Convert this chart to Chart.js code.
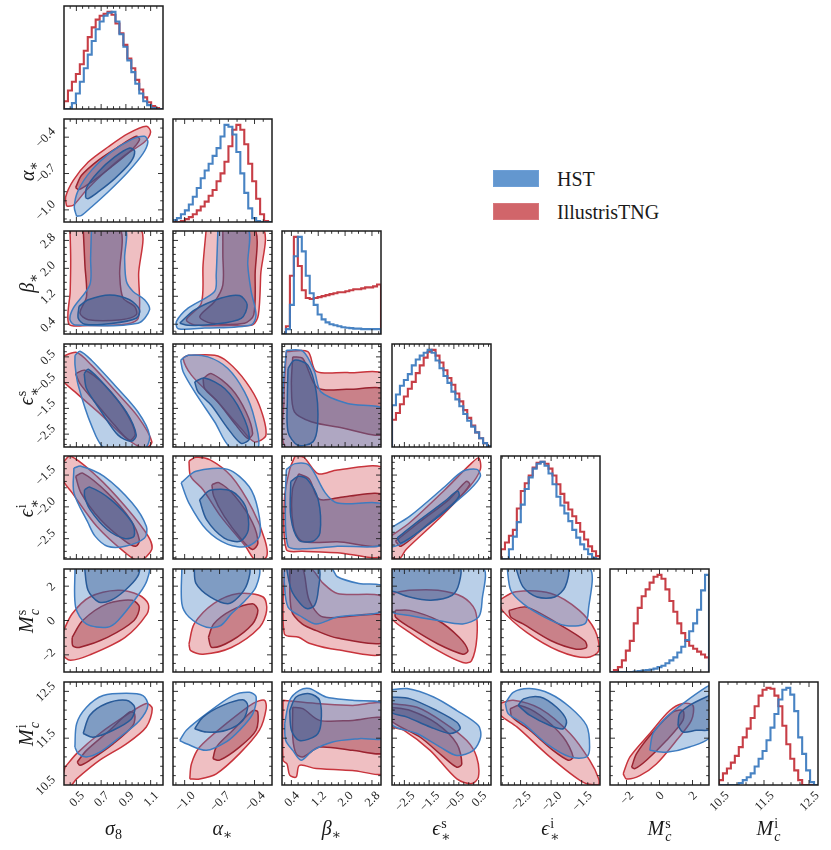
<!DOCTYPE html>
<html><head><meta charset="utf-8">
<script src="https://cdn.jsdelivr.net/npm/chart.js@4.4.1/dist/chart.umd.min.js"></script>
<style>
html,body{margin:0;padding:0;background:#fff;}
#fig{position:relative;width:831px;height:850px;overflow:hidden;font-family:"Liberation Serif","DejaVu Serif",serif;color:#1a1a1a;}
.xl{position:absolute;top:815px;width:100px;text-align:center;font-size:20px;line-height:26px;white-space:nowrap;}
.yl{position:absolute;width:0;height:0;}
.yl>span{position:absolute;left:0;top:0;font-size:20px;line-height:26px;white-space:nowrap;transform:translate(-50%,-50%) rotate(-90deg);}
sub{font-size:0.7em;vertical-align:-0.3em;line-height:0;}
.ss{display:inline-block;vertical-align:-0.42em;font-size:0.7em;line-height:0.95em;margin-left:1px;text-align:left;}
.ss>span{display:block;}
.lg{position:absolute;left:493px;width:46px;height:17px;box-sizing:border-box;}
.lt{position:absolute;left:557px;font-size:20px;line-height:20px;white-space:nowrap;}
</style></head>
<body><div id="fig"></div>
<script>
// ---------------- DATA ----------------
const PARAM_MIN = [0.4, -1.1, 0.12, -3.0, -2.82, -3.0, 10.5];
const PARAM_MAX = [1.2, -0.25, 3.07, 1.0, -1.2, 3.0, 12.7];
const TICK_VALUES = [[0.5,0.7,0.9,1.1],[-1.0,-0.7,-0.4],[0.4,1.2,2.0,2.8],[-2.5,-1.5,-0.5,0.5],[-2.5,-2.0,-1.5],[-2,0,2],[10.5,11.5,12.5]];
const TICK_DECIMALS = [1,1,1,1,1,0,1];
const MINOR_STEP = [0.05,0.075,0.2,0.2,0.1,0.5,0.2];
const LEGEND_LABELS = ['HST','IllustrisTNG'];

// normalised 1D histograms (25 bins spanning each parameter range)
const histRed_s8  = [0.08,0.19,0.28,0.36,0.46,0.6,0.74,0.84,0.92,0.96,0.98,1.0,0.97,0.88,0.78,0.66,0.52,0.42,0.3,0.2,0.12,0.07,0.03,0.01,0];
const histBlue_s8 = [0,0,0.06,0.16,0.28,0.42,0.56,0.7,0.82,0.9,0.96,0.99,1.0,0.9,0.77,0.64,0.5,0.38,0.26,0.16,0.08,0.04,0.01,0,0];
const histRed_aS  = [0,0,0.01,0.03,0.05,0.08,0.12,0.16,0.21,0.27,0.33,0.42,0.5,0.62,0.78,0.95,1.0,0.95,0.8,0.6,0.42,0.24,0.08,0.01,0];
const histBlue_aS = [0.02,0.04,0.08,0.12,0.18,0.26,0.35,0.45,0.53,0.6,0.68,0.76,0.88,1.0,0.98,0.9,0.72,0.5,0.3,0.14,0.04,0.01,0,0,0];
const histRed_bS  = [0,0.08,0.6,1.0,0.7,0.45,0.37,0.36,0.37,0.38,0.39,0.4,0.41,0.42,0.43,0.43,0.44,0.45,0.46,0.46,0.47,0.48,0.48,0.49,0.51];
const histBlue_bS = [0,0.05,0.3,0.8,1.0,0.85,0.6,0.42,0.3,0.2,0.15,0.12,0.1,0.09,0.08,0.07,0.065,0.06,0.055,0.055,0.05,0.05,0.05,0.05,0.05];
const histRed_eS  = [0.28,0.35,0.44,0.52,0.6,0.67,0.76,0.84,0.92,0.98,1.0,0.94,0.87,0.79,0.71,0.64,0.55,0.47,0.38,0.3,0.22,0.15,0.09,0.04,0.01];
const histBlue_eS = [0.43,0.54,0.63,0.69,0.75,0.84,0.9,0.94,0.97,1.0,0.97,0.89,0.81,0.73,0.66,0.57,0.49,0.42,0.34,0.27,0.21,0.15,0.09,0.04,0.01];
const histRed_eI  = [0.1,0.17,0.24,0.3,0.52,0.7,0.78,0.86,0.94,0.99,1.0,0.98,0.93,0.86,0.77,0.67,0.58,0.51,0.44,0.37,0.28,0.2,0.13,0.08,0.03];
const histBlue_eI = [0,0,0.1,0.23,0.38,0.56,0.72,0.84,0.93,0.98,1.0,0.96,0.88,0.77,0.64,0.55,0.47,0.39,0.3,0.22,0.15,0.1,0.05,0.01,0];
const histRed_mS  = [0,0.02,0.05,0.12,0.22,0.32,0.5,0.66,0.78,0.85,0.92,0.98,1.0,0.96,0.85,0.73,0.62,0.5,0.4,0.32,0.27,0.24,0.21,0.18,0.15];
const histBlue_mS = [0,0,0,0,0,0,0.005,0.01,0.015,0.02,0.025,0.035,0.05,0.065,0.09,0.12,0.15,0.2,0.26,0.33,0.42,0.5,0.64,0.84,1.0];
const histRed_mI  = [0.05,0.12,0.17,0.23,0.3,0.39,0.49,0.58,0.69,0.81,0.92,0.98,1.0,0.99,0.92,0.81,0.61,0.42,0.27,0.15,0.05,0,0,0,0];
const histBlue_mI = [0,0,0,0,0,0.02,0.05,0.08,0.12,0.19,0.27,0.35,0.46,0.59,0.73,0.88,0.98,1.0,0.93,0.76,0.49,0.32,0.15,0.03,0];

// 2D credible contours [x, y] (95% and 68%), named <series><level>_<yParam>_<xParam>
const red95_aS_s8 = [[0.421,-0.97],[0.413,-0.894],[0.475,-0.756],[0.596,-0.605],[0.756,-0.481],[0.917,-0.371],[1.065,-0.31],[1.10,-0.357],[1.05,-0.44],[0.89,-0.55],[0.73,-0.687],[0.58,-0.838],[0.475,-0.962]];
const red68_aS_s8 = [[0.494,-0.816],[0.542,-0.715],[0.676,-0.591],[0.837,-0.481],[0.984,-0.393],[1.011,-0.42],[0.944,-0.508],[0.783,-0.646],[0.622,-0.77],[0.521,-0.833]];
const blue95_aS_s8 = [[0.502,-1.053],[0.483,-0.976],[0.515,-0.839],[0.622,-0.674],[0.783,-0.522],[0.944,-0.42],[1.051,-0.393],[1.078,-0.44],[1.038,-0.536],[0.917,-0.687],[0.756,-0.852],[0.622,-0.976],[0.542,-1.045]];
const blue68_aS_s8 = [[0.574,-0.899],[0.582,-0.817],[0.676,-0.687],[0.81,-0.563],[0.931,-0.489],[0.971,-0.514],[0.939,-0.605],[0.81,-0.742],[0.676,-0.852],[0.596,-0.907]];

const red95_bS_s8 = [[0.448,3.15],[1.011,3.15],[1.003,1.82],[1.011,0.955],[0.992,0.527],[0.864,0.383],[0.596,0.365],[0.44,0.403],[0.45,1.34],[0.454,2.29]];
const red68_bS_s8 = [[0.555,3.15],[0.569,2.1],[0.582,1.19],[0.529,0.72],[0.596,0.53],[0.864,0.53],[0.984,0.67],[0.971,0.91],[0.877,1.15],[0.85,1.82],[0.85,3.15]];
const blue95_bS_s8 = [[0.622,3.15],[0.615,2.3],[0.609,1.53],[0.475,0.86],[0.448,0.53],[0.489,0.38],[0.998,0.43],[1.091,0.81],[1.051,1.1],[0.958,1.34],[0.904,1.63],[0.89,2.29],[0.89,3.15]];
const blue68_bS_s8 = [[0.521,0.91],[0.596,1.1],[0.77,1.24],[0.93,1.1],[1.011,0.81],[0.984,0.57],[0.783,0.42],[0.569,0.4],[0.515,0.57]];
const red95_bS_aS = [[-0.814,3.15],[-0.332,3.15],[-0.347,1.82],[-0.367,0.67],[-0.416,0.38],[-0.6,0.36],[-0.914,0.38],[-0.985,0.53],[-0.857,1.0],[-0.842,2.1]];
const red68_bS_aS = [[-0.672,3.15],[-0.401,3.15],[-0.395,1.82],[-0.407,0.67],[-0.486,0.43],[-0.771,0.43],[-0.87,0.62],[-0.743,1.05],[-0.672,1.53],[-0.672,2.39]];
const blue95_bS_aS = [[-0.714,3.15],[-0.729,1.82],[-0.743,1.34],[-0.971,0.86],[-1.07,0.48],[-1.056,0.27],[-0.828,0.29],[-0.429,0.38],[-0.387,0.67],[-0.429,1.34],[-0.458,2.1],[-0.458,3.15]];
const blue68_bS_aS = [[-1.042,0.43],[-0.914,0.81],[-0.686,1.15],[-0.529,1.22],[-0.463,0.955],[-0.514,0.57],[-0.743,0.4],[-0.971,0.37]];

const red95_eS_s8 = [[0.38,0.5],[0.502,0.67],[0.622,0.18],[0.81,-0.8],[0.998,-1.83],[1.11,-2.8],[1.051,-3.05],[0.904,-2.67],[0.703,-1.76],[0.489,-0.86],[0.38,-0.34]];
const red68_eS_s8 = [[0.494,-0.15],[0.569,-0.02],[0.73,-0.6],[0.89,-1.57],[0.976,-2.48],[0.93,-2.74],[0.81,-2.16],[0.65,-1.25],[0.529,-0.54]];
const blue95_eS_s8 = [[0.489,0.56],[0.529,0.72],[0.622,0.37],[0.81,-0.6],[0.998,-1.64],[1.091,-2.54],[1.051,-3.05],[0.73,-3.05],[0.622,-2.16],[0.515,-0.6],[0.489,0.18]];
const blue68_eS_s8 = [[0.563,-0.15],[0.596,0.02],[0.73,-0.6],[0.904,-1.64],[0.984,-2.54],[0.944,-2.78],[0.837,-2.54],[0.703,-1.64],[0.582,-0.73]];
const red95_eS_aS = [[-0.971,0.56],[-0.743,0.56],[-0.629,0.3],[-0.473,-0.47],[-0.359,-1.38],[-0.302,-2.54],[-0.401,-2.8],[-0.515,-2.28],[-0.743,-1.12],[-0.942,-0.21],[-1.013,0.44]];
const red68_eS_aS = [[-0.842,-0.34],[-0.771,-0.15],[-0.6,-0.73],[-0.473,-1.64],[-0.416,-2.48],[-0.458,-2.67],[-0.558,-2.16],[-0.714,-1.25],[-0.828,-0.73]];
const blue95_eS_aS = [[-1.034,0.37],[-0.971,0.56],[-0.8,0.5],[-0.629,0.05],[-0.486,-0.86],[-0.401,-1.89],[-0.372,-3.05],[-0.6,-3.05],[-0.743,-2.02],[-0.914,-0.86],[-1.013,-0.08]];
const blue68_eS_aS = [[-0.914,-0.47],[-0.828,-0.32],[-0.657,-0.73],[-0.515,-1.64],[-0.444,-2.67],[-0.515,-2.86],[-0.629,-2.28],[-0.771,-1.38],[-0.885,-0.86]];
const red95_eS_bS = [[0.25,0.7],[0.89,0.7],[1.14,-0.06],[2.07,-0.11],[3.2,-0.24],[3.2,-3.1],[0.3,-3.1],[0.18,-1.12]];
const red68_eS_bS = [[0.44,0.5],[0.74,0.44],[1.18,-0.7],[2.07,-0.76],[3.2,-0.8],[3.2,-2.48],[1.78,-2.22],[0.99,-2.02],[0.49,-1.64],[0.4,-0.6]];
const blue95_eS_bS = [[0.25,0.76],[0.74,0.72],[1.09,-0.08],[1.28,-0.86],[2.07,-1.31],[3.2,-1.57],[3.2,-3.1],[0.2,-3.1],[0.15,-0.86]];
const blue68_eS_bS = [[0.3,0.05],[0.49,0.37],[0.89,0.18],[1.14,-0.86],[1.18,-2.15],[1.04,-2.8],[0.59,-2.93],[0.3,-2.41],[0.28,-1.12]];

const red95_eI_s8 = [[0.39,-1.31],[0.451,-1.2],[0.666,-1.52],[0.894,-1.99],[1.08,-2.46],[1.109,-2.67],[1.009,-2.85],[0.894,-2.72],[0.666,-2.31],[0.466,-1.78],[0.39,-1.57]];
const red68_eI_s8 = [[0.494,-1.52],[0.551,-1.47],[0.751,-1.78],[0.937,-2.2],[1.009,-2.52],[0.98,-2.62],[0.894,-2.54],[0.694,-2.2],[0.537,-1.78]];
const blue95_eI_s8 = [[0.48,-1.39],[0.537,-1.36],[0.723,-1.52],[0.951,-1.94],[1.066,-2.31],[1.051,-2.49],[0.894,-2.62],[0.751,-2.62],[0.651,-2.46],[0.594,-2.25],[0.48,-1.78]];
const blue68_eI_s8 = [[0.566,-1.73],[0.609,-1.69],[0.78,-1.89],[0.951,-2.25],[0.966,-2.46],[0.894,-2.5],[0.751,-2.36],[0.609,-2.04],[0.566,-1.83]];
const red95_eI_aS = [[-0.963,-1.28],[-0.903,-1.22],[-0.781,-1.26],[-0.599,-1.52],[-0.417,-2.04],[-0.311,-2.52],[-0.296,-2.78],[-0.387,-2.85],[-0.478,-2.62],[-0.69,-2.15],[-0.842,-1.73],[-0.948,-1.52]];
const red68_eI_aS = [[-0.766,-1.65],[-0.706,-1.62],[-0.569,-1.83],[-0.417,-2.25],[-0.371,-2.57],[-0.417,-2.67],[-0.508,-2.52],[-0.66,-2.15],[-0.751,-1.83]];
const blue95_eI_aS = [[-1.03,-1.62],[-0.903,-1.44],[-0.629,-1.41],[-0.447,-1.68],[-0.371,-2.04],[-0.356,-2.46],[-0.462,-2.62],[-0.629,-2.59],[-0.812,-2.36],[-0.963,-1.94]];
const blue68_eI_aS = [[-0.872,-1.89],[-0.781,-1.74],[-0.599,-1.75],[-0.478,-1.99],[-0.453,-2.36],[-0.523,-2.54],[-0.66,-2.49],[-0.812,-2.2]];
const red95_eI_bS = [[0.51,-1.2],[0.77,-1.22],[1.2,-1.48],[1.77,-1.42],[3.2,-1.42],[3.2,-2.74],[1.77,-2.72],[0.72,-2.7],[0.25,-2.67],[0.19,-1.89],[0.35,-1.41]];
const red68_eI_bS = [[0.62,-1.48],[0.93,-1.56],[1.23,-1.88],[1.99,-1.84],[3.2,-1.83],[3.2,-2.58],[1.77,-2.55],[0.72,-2.54],[0.46,-2.31],[0.43,-1.73]];
const blue95_eI_bS = [[0.25,-1.41],[0.51,-1.32],[0.93,-1.35],[1.41,-1.78],[1.77,-1.94],[3.2,-1.98],[3.2,-2.57],[1.77,-2.62],[0.72,-2.66],[0.3,-2.62],[0.22,-1.89]];
const blue68_eI_bS = [[0.38,-1.6],[0.62,-1.52],[0.88,-1.57],[1.2,-1.89],[1.25,-2.41],[1.04,-2.54],[0.62,-2.52],[0.38,-2.15]];
const red95_eI_eS = [[-3.05,-2.46],[-2.29,-2.25],[-0.86,-1.73],[0.14,-1.34],[0.5,-1.23],[0.57,-1.41],[0.14,-1.68],[-1.14,-2.2],[-2.43,-2.67],[-2.71,-2.82],[-3.05,-2.78]];
const red68_eI_eS = [[-2.86,-2.54],[-1.86,-2.23],[-0.71,-1.89],[0,-1.6],[0.14,-1.65],[-0.43,-1.91],[-1.57,-2.28],[-2.64,-2.62]];
const blue95_eI_eS = [[-3.05,-2.33],[-2.29,-2.15],[-0.86,-1.68],[-0.14,-1.44],[0.43,-1.41],[0.57,-1.52],[0.14,-1.73],[-1.14,-2.15],[-2.43,-2.54],[-3.05,-2.62]];
const blue68_eI_eS = [[-2.79,-2.49],[-1.86,-2.2],[-0.86,-1.91],[-0.36,-1.75],[-0.29,-1.83],[-0.71,-2.02],[-1.71,-2.33],[-2.64,-2.57]];

const red95_mS_s8 = [[0.39,-0.69],[0.466,0.39],[0.609,1.37],[0.837,1.76],[1.009,1.47],[1.08,0.98],[1.071,0.39],[0.894,-0.98],[0.609,-2.0],[0.451,-2.31],[0.39,-1.96]];
const red68_mS_s8 = [[0.466,-0.98],[0.551,0],[0.751,0.98],[0.951,1.18],[1.009,0.78],[0.966,0],[0.751,-0.98],[0.523,-1.57],[0.471,-1.47]];
const blue95_mS_s8 = [[0.489,3.1],[0.494,0.78],[0.58,-0.2],[0.751,-0.39],[0.837,0],[1.009,1.57],[1.071,2.35],[1.08,3.1]];
const blue68_mS_s8 = [[0.566,3.1],[0.594,1.76],[0.68,1.08],[0.78,1.18],[0.894,1.76],[0.994,2.55],[1.003,3.1]];
const red95_mS_aS = [[-0.963,-1.37],[-0.918,-0.2],[-0.751,0.98],[-0.538,1.57],[-0.326,1.37],[-0.296,0.59],[-0.356,-0.39],[-0.599,-1.57],[-0.842,-1.96],[-0.948,-1.76]];
const red68_mS_aS = [[-0.796,-0.98],[-0.751,-0.2],[-0.599,0.59],[-0.417,0.98],[-0.371,0.59],[-0.417,-0.2],[-0.599,-1.18],[-0.766,-1.57]];
const blue95_mS_aS = [[-1.024,3.1],[-1.024,0.98],[-0.963,0.2],[-0.812,-0.39],[-0.69,-0.29],[-0.599,0.39],[-0.478,1.18],[-0.387,1.96],[-0.371,3.1]];
const blue68_mS_aS = [[-0.918,3.1],[-0.903,2.16],[-0.781,1.37],[-0.629,0.98],[-0.538,1.37],[-0.462,2.16],[-0.453,3.1]];
const red95_mS_bS = [[0.19,3.1],[0.93,3.1],[1.35,2.16],[1.77,1.57],[3.2,1.27],[3.2,-1.86],[1.77,-1.71],[0.93,-1.33],[0.62,-0.98],[0.19,-0.78]];
const red68_mS_bS = [[0.35,3.1],[0.72,3.1],[0.93,1.18],[1.35,0.2],[3.2,0.29],[3.2,-1.27],[1.77,-1.02],[1.14,-0.59],[0.72,-0.2],[0.4,0.59]];
const blue95_mS_bS = [[0.19,3.1],[1.56,3.1],[1.77,2.55],[2.41,2.16],[3.2,1.96],[3.2,0.59],[1.77,0.2],[1.14,-0.2],[0.72,0.2],[0.3,0.78],[0.19,2.16]];
const blue68_mS_bS = [[0.25,3.1],[1.2,3.1],[1.2,1.76],[1.09,0.88],[0.88,0.69],[0.67,0.98],[0.4,1.76]];
const red95_mS_eS = [[-3.05,1.57],[-2.29,1.76],[-1.14,1.76],[-0.14,1.37],[0.36,0.59],[0.43,-0.98],[0.21,-2.35],[-0.14,-2.45],[-1.14,-1.76],[-2.29,-0.69],[-3.05,0.2]];
const red68_mS_eS = [[-2.86,0.59],[-2.29,0.59],[-1.14,0],[-0.29,-0.98],[0.07,-1.76],[-0.14,-1.96],[-1.14,-1.37],[-2.29,-0.39],[-2.86,0.2]];
const blue95_mS_eS = [[-3.05,3.1],[0.64,3.1],[0.64,1.18],[0.5,0.2],[-0.14,-0.2],[-1.14,0],[-2.29,0.29],[-3.05,0.59]];
const blue68_mS_eS = [[-3.05,3.1],[-0.29,3.1],[-0.29,2.16],[-0.57,1.47],[-1.43,1.18],[-2.29,1.37],[-2.86,1.67],[-3.05,1.76]];
const red95_mS_eI = [[-2.85,1.18],[-2.58,1.67],[-2.0,1.57],[-1.54,0.59],[-1.28,-0.59],[-1.22,-1.76],[-1.42,-2.16],[-1.88,-1.76],[-2.4,-0.69],[-2.8,0.59]];
const red68_mS_eI = [[-2.69,0.59],[-2.4,0.78],[-1.88,-0.2],[-1.45,-1.18],[-1.42,-1.57],[-1.59,-1.67],[-2.0,-1.18],[-2.46,-0.2],[-2.66,0.2]];
const blue95_mS_eI = [[-2.72,3.1],[-1.39,3.1],[-1.39,0.59],[-1.45,-0.2],[-1.77,-0.29],[-2.11,0.2],[-2.46,0.98],[-2.66,1.76]];
const blue68_mS_eI = [[-2.58,3.1],[-1.74,3.1],[-1.77,1.96],[-1.94,1.37],[-2.23,1.37],[-2.46,1.96]];

const red95_mI_s8 = [[0.408,10.88],[0.502,11.17],[0.689,11.6],[0.904,11.99],[1.065,12.24],[1.113,12.13],[1.065,11.74],[0.904,11.38],[0.689,11.03],[0.502,10.63],[0.45,10.48],[0.38,10.5]];
const red68_mI_s8 = [[0.507,10.99],[0.582,11.24],[0.77,11.67],[0.931,12.06],[0.971,12.02],[0.957,11.77],[0.797,11.38],[0.609,11.03],[0.529,10.92]];
const blue95_mI_s8 = [[0.488,11.31],[0.502,11.81],[0.582,12.16],[0.716,12.41],[0.904,12.46],[1.038,12.41],[1.078,12.2],[1.011,11.88],[0.85,11.52],[0.689,11.2],[0.582,11.1],[0.515,11.17]];
const blue68_mI_s8 = [[0.555,11.6],[0.609,11.99],[0.743,12.24],[0.904,12.31],[0.971,12.16],[0.944,11.91],[0.797,11.67],[0.636,11.52]];
const red95_mI_aS = [[-0.956,10.63],[-0.942,10.95],[-0.871,11.31],[-0.643,11.81],[-0.415,12.24],[-0.315,12.31],[-0.3,12.13],[-0.358,11.67],[-0.529,11.17],[-0.728,10.74],[-0.871,10.63]];
const red68_mI_aS = [[-0.757,11.06],[-0.728,11.31],[-0.586,11.67],[-0.415,12.09],[-0.372,12.06],[-0.387,11.67],[-0.529,11.31],[-0.7,11.03]];
const blue95_mI_aS = [[-1.042,11.45],[-0.985,11.67],[-0.814,12.02],[-0.586,12.41],[-0.444,12.48],[-0.386,12.38],[-0.415,12.02],[-0.529,11.67],[-0.643,11.42],[-0.814,11.24],[-0.985,11.38]];
const blue68_mI_aS = [[-0.914,11.7],[-0.843,11.95],[-0.672,12.2],[-0.501,12.32],[-0.458,12.2],[-0.501,11.88],[-0.643,11.67],[-0.814,11.63]];
const red95_mI_bS = [[0.15,12.31],[1.14,12.24],[2.22,12.2],[3.2,12.2],[3.2,10.78],[2.22,10.81],[1.14,10.85],[0.64,10.92],[0.54,10.67],[0.35,10.71],[0.27,10.95],[0.15,11.03]];
const red68_mI_bS = [[0.44,12.16],[0.74,12.13],[1.24,11.88],[2.22,11.88],[3.2,11.91],[3.2,11.2],[2.22,11.24],[1.24,11.31],[0.74,11.1],[0.54,11.17],[0.44,11.52]];
const blue95_mI_bS = [[0.2,11.81],[0.35,12.31],[0.64,12.52],[0.94,12.56],[1.43,12.38],[2.22,12.31],[3.2,12.22],[3.2,11.52],[2.42,11.49],[1.63,11.42],[1.04,11.24],[0.69,11.03],[0.44,11.24],[0.23,11.45]];
const blue68_mI_bS = [[0.35,12.09],[0.54,12.38],[0.94,12.45],[1.24,12.31],[1.28,11.81],[1.14,11.56],[0.64,11.45],[0.4,11.67]];
const red95_mI_eS = [[-3.05,12.24],[-1.99,12.16],[-0.92,11.84],[0.02,11.45],[0.42,11.1],[0.49,10.67],[0.22,10.53],[-0.38,10.63],[-1.46,11.24],[-2.53,11.67],[-3.05,11.77]];
const red68_mI_eS = [[-3.05,12.16],[-2.26,12.09],[-1.19,11.81],[-0.38,11.38],[-0.18,10.95],[-0.38,10.88],[-0.92,11.1],[-1.86,11.52],[-3.05,11.88]];
const blue95_mI_eS = [[-3.05,12.53],[-2.39,12.56],[-1.32,12.38],[-0.38,12.09],[0.49,11.77],[0.58,11.52],[0.29,11.24],[-0.38,11.13],[-1.05,11.31],[-1.99,11.6],[-3.05,11.81]];
const blue68_mI_eS = [[-3.05,12.38],[-2.26,12.34],[-1.19,12.09],[-0.38,11.84],[-0.25,11.7],[-0.65,11.6],[-1.46,11.74],[-2.39,11.95],[-3.05,12.06]];
const red95_mI_eI = [[-2.85,12.24],[-2.62,12.31],[-2.18,12.13],[-1.69,11.6],[-1.37,11.03],[-1.22,10.63],[-1.23,10.5],[-1.48,10.56],[-2.02,11.1],[-2.56,11.74],[-2.85,12.02]];
const red68_mI_eI = [[-2.67,12.13],[-2.51,12.2],[-2.18,11.99],[-1.8,11.52],[-1.64,11.1],[-1.72,11.03],[-1.97,11.24],[-2.35,11.67],[-2.64,11.95]];
const blue95_mI_eI = [[-2.75,12.24],[-2.62,12.48],[-2.35,12.56],[-2.02,12.45],[-1.69,12.16],[-1.42,11.77],[-1.37,11.31],[-1.42,11.1],[-1.69,11.1],[-2.07,11.38],[-2.45,11.81],[-2.7,12.02]];
const blue68_mI_eI = [[-2.54,12.2],[-2.45,12.34],[-2.18,12.38],[-1.91,12.16],[-1.75,11.88],[-1.8,11.7],[-2.02,11.77],[-2.35,11.99]];
const red95_mI_mS = [[-2.2,10.74],[-1.79,11.1],[-0.59,11.6],[0.62,12.09],[1.42,12.24],[2.03,12.2],[1.93,11.88],[1.02,11.45],[-0.19,10.95],[-1.19,10.7],[-2.0,10.63]];
const red68_mI_mS = [[-1.69,10.88],[-1.39,11.17],[-0.39,11.63],[0.82,12.06],[1.42,12.09],[1.42,11.88],[0.42,11.45],[-0.79,11.03],[-1.49,10.85]];
const blue95_mI_mS = [[-0.59,11.24],[-0.39,11.6],[0.42,11.95],[1.42,12.24],[2.83,12.59],[3.1,12.62],[3.1,11.55],[1.82,11.31],[0.42,11.2]];
const blue68_mI_mS = [[1.12,11.77],[1.22,12.02],[1.82,12.2],[2.83,12.38],[3.1,12.4],[3.1,11.7],[2.23,11.67],[1.42,11.63]];

// tables built from the named arrays
const HIST_RED = [histRed_s8, histRed_aS, histRed_bS, histRed_eS, histRed_eI, histRed_mS, histRed_mI];
const HIST_BLUE = [histBlue_s8, histBlue_aS, histBlue_bS, histBlue_eS, histBlue_eI, histBlue_mS, histBlue_mI];
const PANEL_CONTOURS = {
  '1_0': [red95_aS_s8, red68_aS_s8, blue95_aS_s8, blue68_aS_s8],
  '2_0': [red95_bS_s8, red68_bS_s8, blue95_bS_s8, blue68_bS_s8],
  '2_1': [red95_bS_aS, red68_bS_aS, blue95_bS_aS, blue68_bS_aS],
  '3_0': [red95_eS_s8, red68_eS_s8, blue95_eS_s8, blue68_eS_s8],
  '3_1': [red95_eS_aS, red68_eS_aS, blue95_eS_aS, blue68_eS_aS],
  '3_2': [red95_eS_bS, red68_eS_bS, blue95_eS_bS, blue68_eS_bS],
  '4_0': [red95_eI_s8, red68_eI_s8, blue95_eI_s8, blue68_eI_s8],
  '4_1': [red95_eI_aS, red68_eI_aS, blue95_eI_aS, blue68_eI_aS],
  '4_2': [red95_eI_bS, red68_eI_bS, blue95_eI_bS, blue68_eI_bS],
  '4_3': [red95_eI_eS, red68_eI_eS, blue95_eI_eS, blue68_eI_eS],
  '5_0': [red95_mS_s8, red68_mS_s8, blue95_mS_s8, blue68_mS_s8],
  '5_1': [red95_mS_aS, red68_mS_aS, blue95_mS_aS, blue68_mS_aS],
  '5_2': [red95_mS_bS, red68_mS_bS, blue95_mS_bS, blue68_mS_bS],
  '5_3': [red95_mS_eS, red68_mS_eS, blue95_mS_eS, blue68_mS_eS],
  '5_4': [red95_mS_eI, red68_mS_eI, blue95_mS_eI, blue68_mS_eI],
  '6_0': [red95_mI_s8, red68_mI_s8, blue95_mI_s8, blue68_mI_s8],
  '6_1': [red95_mI_aS, red68_mI_aS, blue95_mI_aS, blue68_mI_aS],
  '6_2': [red95_mI_bS, red68_mI_bS, blue95_mI_bS, blue68_mI_bS],
  '6_3': [red95_mI_eS, red68_mI_eS, blue95_mI_eS, blue68_mI_eS],
  '6_4': [red95_mI_eI, red68_mI_eI, blue95_mI_eI, blue68_mI_eI],
  '6_5': [red95_mI_mS, red68_mI_mS, blue95_mI_mS, blue68_mI_mS]
};

// ---------------- LAYOUT / STYLE ----------------
const PANEL_LEFT = [64,173,282,392,501,610,719];
const PANEL_TOP = [6,119,231,344,456,569,682];
const PANEL_W = 99, PANEL_H = 103;
const HIST_YMAX = 1.06;
const INK = '#1c1c1c';
const TICK_FONT = '12.5px "Liberation Serif", "DejaVu Serif", serif';
const STYLE = {
  blue95: {fill:'rgba(70,130,195,0.38)', line:'rgb(62,124,192)'},
  blue68: {fill:'rgba(40,80,140,0.40)', line:'rgb(40,90,152)'},
  red95:  {fill:'rgba(205,60,70,0.33)', line:'rgb(200,52,60)'},
  red68:  {fill:'rgba(140,30,45,0.38)', line:'rgb(155,35,48)'},
  histBlue: 'rgba(62,124,192,0.95)', histRed: 'rgba(196,52,60,0.95)'
};
const AXIS_LABELS = [
  '<i>σ</i><sub>8</sub>',
  '<i>α</i><sub>∗</sub>',
  '<i>β</i><sub>∗</sub>',
  '<i>ϵ</i><span class="ss"><span>s</span><span>∗</span></span>',
  '<i>ϵ</i><span class="ss"><span>i</span><span>∗</span></span>',
  '<i>M</i><span class="ss"><span>s</span><span><i>c</i></span></span>',
  '<i>M</i><span class="ss"><span>i</span><span><i>c</i></span></span>'
];

function fmtTick(v, k) {
  const s = Math.abs(v).toFixed(TICK_DECIMALS[k]);
  return (v < -1e-9 ? '\u2212' : '') + s;
}

const framePlugin = {
  id: 'frame',
  afterDatasetsDraw(chart, args, o) {
    const ctx = chart.ctx, a = chart.chartArea, xs = chart.scales.x, ys = chart.scales.y;
    ctx.save();
    ctx.strokeStyle = INK;
    ctx.lineWidth = 0.9;
    ctx.beginPath();
    const mark = (scale, k, horiz) => {
      const major = scale.ticks.map(t => t.value);
      const step = MINOR_STEP[k];
      const vals = [];
      for (let v = major[0]; v >= scale.min - 1e-9; v -= step) vals.push(v);
      for (let v = major[0] + step; v <= scale.max + 1e-9; v += step) vals.push(v);
      for (const v of vals) {
        const isMajor = major.some(m => Math.abs(m - v) < step * 0.05);
        const len = isMajor ? 5 : 2.8;
        const p = scale.getPixelForValue(v);
        if (horiz) {
          if (p < a.left + 1 || p > a.right - 1) continue;
          ctx.moveTo(p, a.bottom); ctx.lineTo(p, a.bottom - len);
          ctx.moveTo(p, a.top); ctx.lineTo(p, a.top + len);
        } else {
          if (p < a.top + 1 || p > a.bottom - 1) continue;
          ctx.moveTo(a.left, p); ctx.lineTo(a.left + len, p);
          ctx.moveTo(a.right, p); ctx.lineTo(a.right - len, p);
        }
      }
    };
    mark(xs, o.col, true);
    if (!o.diag) mark(ys, o.row, false);
    ctx.stroke();
    ctx.lineWidth = 1.5;
    ctx.strokeRect(a.left, a.top, a.right - a.left, a.bottom - a.top);

    ctx.fillStyle = INK;
    ctx.font = TICK_FONT;
    const H = 8.6;
    const drawRot = (s, cx, cy) => {
      ctx.save(); ctx.translate(cx, cy); ctx.rotate(-Math.PI / 4);
      ctx.textAlign = 'center'; ctx.textBaseline = 'alphabetic';
      ctx.fillText(s, 0, H / 2); ctx.restore();
    };
    if (o.xLabels) {
      for (const t of xs.ticks) {
        const s = fmtTick(t.value, o.col);
        const half = (ctx.measureText(s).width + H) * Math.SQRT1_2 / 2;
        drawRot(s, xs.getPixelForValue(t.value), a.bottom + 5 + half);
      }
    }
    if (o.yLabels) {
      for (const t of ys.ticks) {
        const s = fmtTick(t.value, o.row);
        const half = (ctx.measureText(s).width + H) * Math.SQRT1_2 / 2;
        drawRot(s, a.left - 8 - half, ys.getPixelForValue(t.value));
      }
    }
    ctx.restore();
  }
};

function contourDs(pts, st) {
  const data = pts.concat([pts[0]]).map(p => ({x: p[0], y: p[1]}));
  return {data, fill: 'shape', backgroundColor: st.fill, borderColor: st.line, borderWidth: 1.5,
          pointRadius: 0, tension: 0.3, clip: 0};
}
function histDs(vals, k, color) {
  const lo = PARAM_MIN[k], step = (PARAM_MAX[k] - PARAM_MIN[k]) / vals.length;
  const data = [{x: lo, y: 0}];
  vals.forEach((v, i) => data.push({x: lo + i * step, y: v}));
  data.push({x: lo + vals.length * step, y: vals[vals.length - 1]});
  data.push({x: lo + vals.length * step, y: 0});
  return {data, fill: false, stepped: 'before', borderColor: color, borderWidth: 2.1, pointRadius: 0, clip: 0};
}

const fig = document.getElementById('fig');

function makePanel(r, c) {
  const diag = r === c;
  const padL = (c === 0 && r > 0) ? 64 : (r === 6 ? 14 : 5);
  const padB = r === 6 ? 50 : 5, padT = 5, padR = 5;
  const cw = padL + PANEL_W + padR, ch = padT + PANEL_H + padB;
  const cv = document.createElement('canvas');
  cv.width = cw; cv.height = ch;
  cv.style.position = 'absolute';
  cv.style.left = (PANEL_LEFT[c] - padL) + 'px';
  cv.style.top = (PANEL_TOP[r] - padT) + 'px';
  cv.style.width = cw + 'px'; cv.style.height = ch + 'px';
  fig.appendChild(cv);
  let datasets;
  if (diag) {
    datasets = [histDs(HIST_BLUE[c], c, STYLE.histBlue), histDs(HIST_RED[c], c, STYLE.histRed)];
  } else {
    const [r95, r68, b95, b68] = PANEL_CONTOURS[r + '_' + c];
    datasets = [contourDs(b68, STYLE.blue68), contourDs(b95, STYLE.blue95),
                contourDs(r68, STYLE.red68), contourDs(r95, STYLE.red95)];
  }
  const axisCommon = {type: 'linear', grid: {display: false}, border: {display: false}, ticks: {display: false}};
  new Chart(cv, {
    type: 'line',
    data: {datasets},
    options: {
      responsive: false, animation: false, events: [],
      layout: {padding: {top: padT, right: padR, left: 0, bottom: 0}},
      plugins: {legend: {display: false}, tooltip: {enabled: false},
                frame: {row: r, col: c, diag, xLabels: r === 6, yLabels: c === 0 && r > 0}},
      scales: {
        x: Object.assign({}, axisCommon, {min: PARAM_MIN[c], max: PARAM_MAX[c],
             afterBuildTicks: s => { s.ticks = TICK_VALUES[c].map(v => ({value: v})); },
             afterFit: s => { s.height = padB; }}),
        y: Object.assign({}, axisCommon, {min: diag ? 0 : PARAM_MIN[r], max: diag ? HIST_YMAX : PARAM_MAX[r],
             afterBuildTicks: s => { s.ticks = diag ? [] : TICK_VALUES[r].map(v => ({value: v})); },
             afterFit: s => { s.width = padL; }})
      }
    },
    plugins: [framePlugin]
  });
}

for (let r = 0; r < 7; r++) for (let c = 0; c <= r; c++) makePanel(r, c);

// axis titles
for (let k = 0; k < 7; k++) {
  const d = document.createElement('div');
  d.className = 'xl';
  d.style.left = (PANEL_LEFT[k] + PANEL_W / 2 - 50) + 'px';
  d.innerHTML = AXIS_LABELS[k];
  fig.appendChild(d);
  if (k > 0) {
    const y = document.createElement('div');
    y.className = 'yl';
    y.style.left = '27px';
    y.style.top = (PANEL_TOP[k] + PANEL_H / 2) + 'px';
    y.innerHTML = '<span>' + AXIS_LABELS[k] + '</span>';
    fig.appendChild(y);
  }
}

// legend
const LEGEND_FILL = ['rgba(60,125,195,0.8)', 'rgba(196,58,64,0.78)'];
const LEGEND_EDGE = ['rgba(110,160,215,0.9)', 'rgba(215,120,125,0.9)'];
const LEGEND_TOP = [170, 203];
LEGEND_LABELS.forEach((lab, i) => {
  const b = document.createElement('div');
  b.className = 'lg';
  b.style.top = LEGEND_TOP[i] + 'px';
  b.style.background = LEGEND_FILL[i];
  b.style.border = '1px solid ' + LEGEND_EDGE[i];
  fig.appendChild(b);
  const t = document.createElement('div');
  t.className = 'lt';
  t.style.top = (LEGEND_TOP[i] - 1) + 'px';
  t.textContent = lab;
  fig.appendChild(t);
});
</script>
</body></html>
